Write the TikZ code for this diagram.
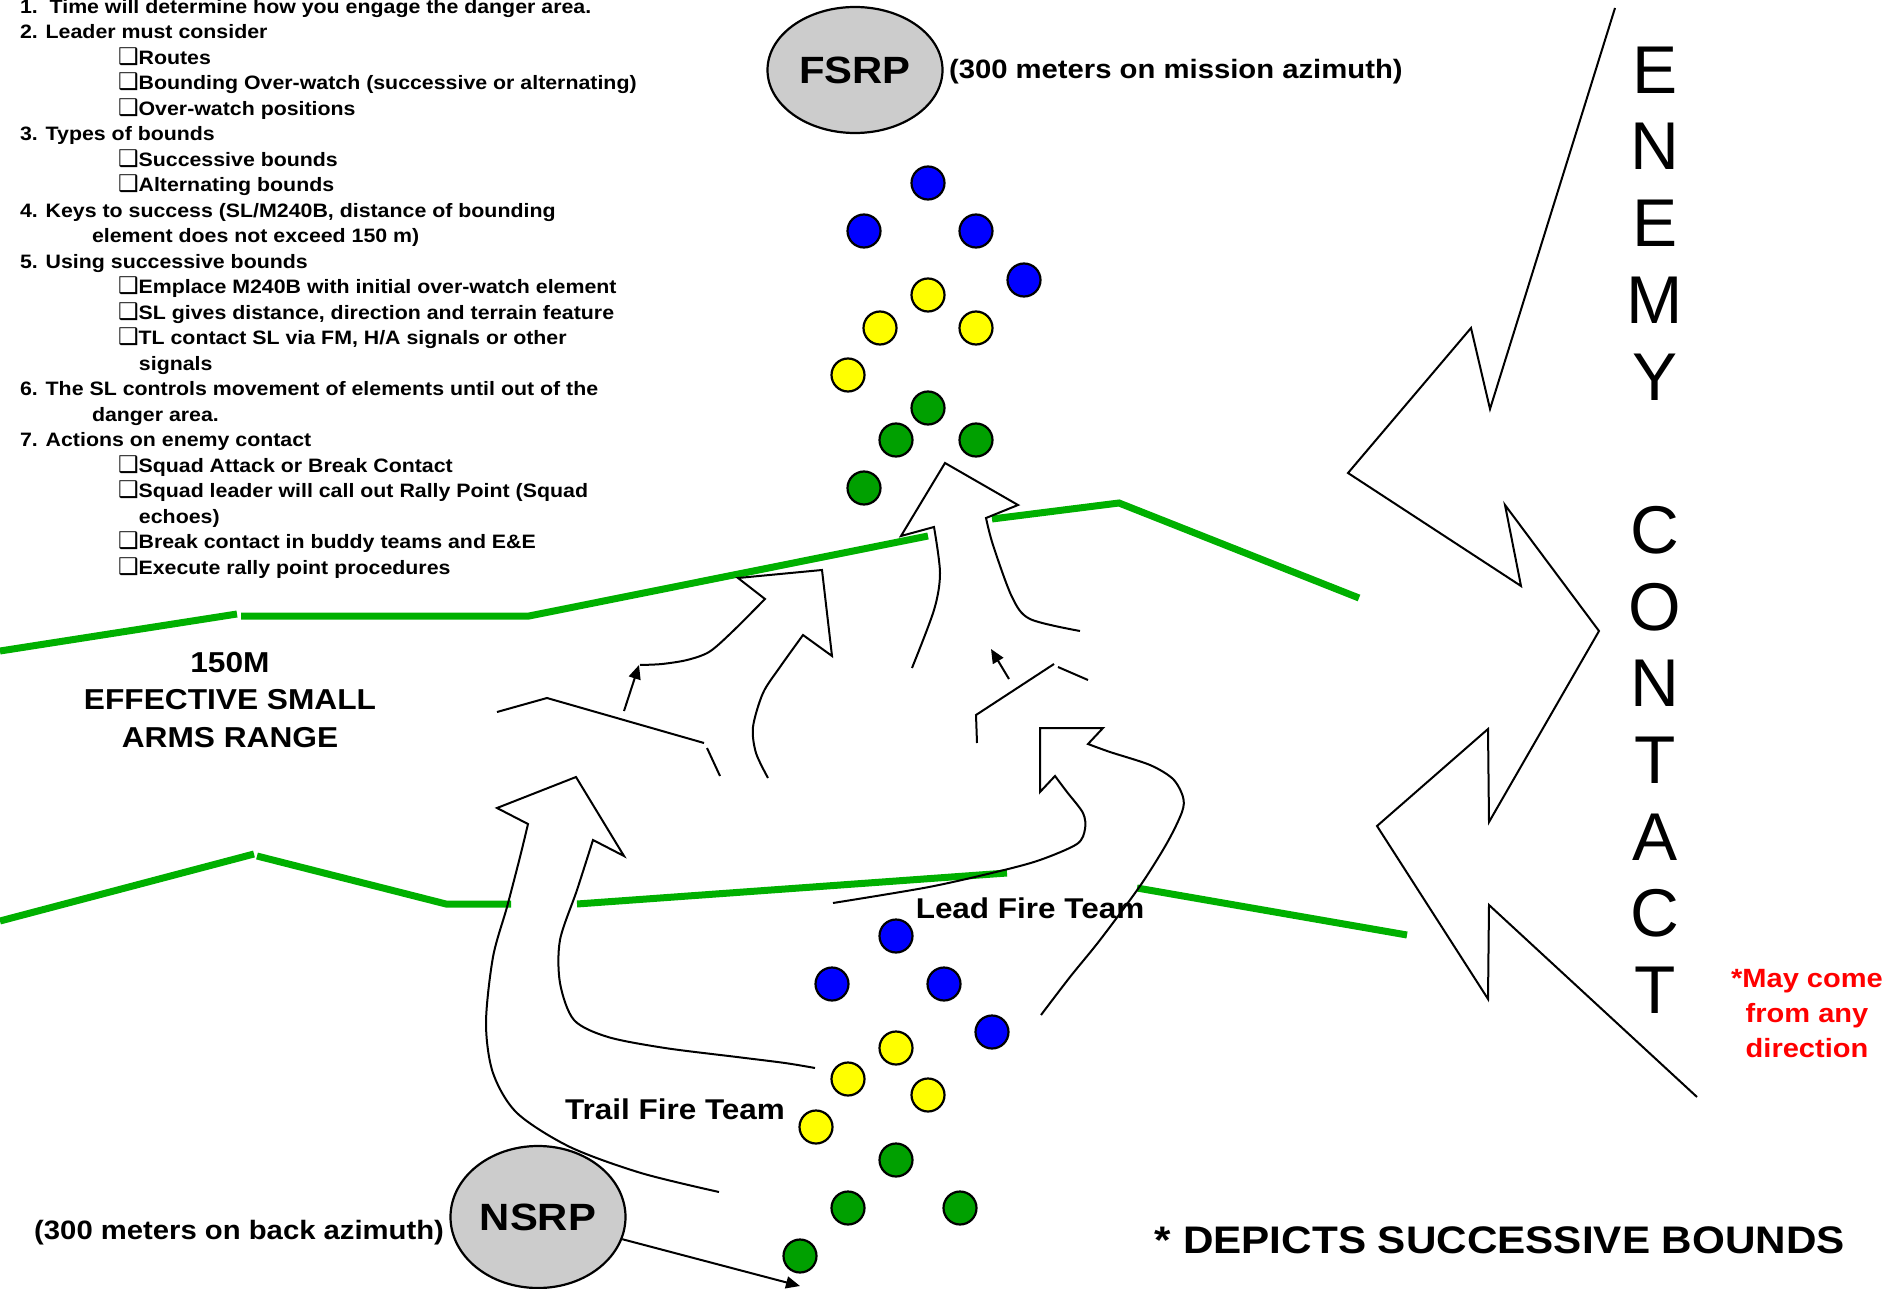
\documentclass[tikz,border=0pt]{standalone}
\usepackage{fontspec}
\setmainfont{Liberation Sans}[FakeStretch=1.1]
\newfontfamily\plainsans{Liberation Sans}
\newfontfamily\boxfont{DejaVu Sans}
\usetikzlibrary{shapes.geometric, arrows.meta}
\definecolor{ridgegreen}{RGB}{0,176,0}
\definecolor{teamgreen}{RGB}{0,160,0}
\definecolor{teamblue}{RGB}{0,0,255}
\definecolor{teamyellow}{RGB}{255,255,0}
\definecolor{rallygray}{RGB}{204,204,204}
\newcommand{\chkbox}{{\boxfont\fontsize{11.5}{12.75}\selectfont ❑}}

\begin{document}
\begin{tikzpicture}
[x=0.5pt, y=-0.5pt, line width=1pt,
bdot/.style={circle, draw, line width=1.1pt, fill=teamblue, inner sep=0pt, minimum size=16.5pt},
ydot/.style={circle, draw, line width=1.1pt, fill=teamyellow, inner sep=0pt, minimum size=16.5pt},
gdot/.style={circle, draw, line width=1.1pt, fill=teamgreen, inner sep=0pt, minimum size=16.5pt},
rally/.style={ellipse, draw, line width=1.1pt, fill=rallygray, inner sep=0pt, minimum width=87.5pt, minimum height=63pt, font=\fontsize{19}{22}\selectfont\bfseries},
ridge/.style={draw=ridgegreen, line width=3.5pt},
bound/.style={draw, line width=1pt},
teamlabel/.style={inner sep=0pt, font=\fontsize{14.3}{18}\selectfont\bfseries},
azimuth/.style={inner sep=0pt, font=\fontsize{13.3}{16}\selectfont\bfseries},
tiny arrow/.style={-{Triangle[length=7pt, width=6pt]}, line width=1pt}]

\path[use as bounding box, fill=white] (0,0) rectangle (1901,1289);

% base of a multi-line node is its last line
\node[anchor=base west, inner sep=0pt, align=left, font=\fontsize{9.7}{12.75}\selectfont\bfseries] (notes) at (19,574)
{1.\ \ Time will determine how you engage the danger area.\\
2. Leader must consider\\
\hspace*{49pt}\chkbox Routes\\
\hspace*{49pt}\chkbox Bounding Over-watch (successive or alternating)\\
\hspace*{49pt}\chkbox Over-watch positions\\
3. Types of bounds\\
\hspace*{49pt}\chkbox Successive bounds\\
\hspace*{49pt}\chkbox Alternating bounds\\
4. Keys to success (SL/M240B, distance of bounding\\
\hspace*{36pt}element does not exceed 150 m)\\
5. Using successive bounds\\
\hspace*{49pt}\chkbox Emplace M240B with initial over-watch element\\
\hspace*{49pt}\chkbox SL gives distance, direction and terrain feature\\
\hspace*{49pt}\chkbox TL contact SL via FM, H/A signals or other\\
\hspace*{59.5pt}signals\\
6. The SL controls movement of elements until out of the\\
\hspace*{36pt}danger area.\\
7. Actions on enemy contact\\
\hspace*{49pt}\chkbox Squad Attack or Break Contact\\
\hspace*{49pt}\chkbox Squad leader will call out Rally Point (Squad\\
\hspace*{59.5pt}echoes)\\
\hspace*{49pt}\chkbox Break contact in buddy teams and E\&E\\
\hspace*{49pt}\chkbox Execute rally point procedures};

% terrain lines
\draw[ridge] (0,651) -- (237,614);
\draw[ridge] (241,616) -- (529,616) -- (928,536);
\draw[ridge] (992,519) -- (1119,503) -- (1359,598);
\draw[ridge] (0,921) -- (254,854);
\draw[ridge] (257,856) -- (446,904) -- (511,904);
\draw[ridge] (577,904) -- (1007,873);
\draw[ridge] (1137,888) -- (1407,935);

% bounds
\draw[bound] plot[smooth] coordinates {(912,668) (934,610) (940,573) (934,527)} -- (901,536) -- (945,463) -- (1018,505) -- (986,518) -- plot[smooth] coordinates {(986,518) (993,545) (1012,597) (1030,619) (1080,631)};
\draw[bound] plot[smooth] coordinates {(640,665) (662,664) (687,660) (709,652) (731,633) (765,599)} -- (738,578) -- (822,570) -- (832,656) -- (803,635) -- plot[smooth] coordinates {(803,635) (780,667) (763,693) (753,727) (756,753) (768,778)};
\draw[bound] plot[smooth] coordinates {(719,1192) (641,1173) (570,1147) (517,1113) (493,1073) (486,1023) (493,957) (507,907) (520,857) (528,824)} -- (497,808) -- (576,777) -- (624,856) -- (593,840) -- plot[smooth] coordinates {(593,840) (577,890) (560,940) (560,983) (574,1020) (608,1037) (665,1048) (737,1057) (785,1063) (815,1068)};
\draw[bound] plot[smooth] coordinates {(1041,1015) (1070,977) (1100,940) (1140,886) (1167,843) (1182,812) (1183,797) (1173,779) (1150,765) (1110,752) (1088,744)} -- (1103,728) -- (1040,728) -- (1040,792) -- (1055,776) -- plot[smooth] coordinates {(1055,776) (1067,792) (1083,813) (1085,829) (1077,844) (1040,860) (1000,871) (929,887) (833,903)};

\draw[bound] (497,712) -- (547,698) -- (704,743);
\draw[bound] (707,748) -- (720,776);
\draw[bound] (977,743) -- (976,715) -- (1054,664);
\draw[bound] (1058,667) -- (1088,680);

\coordinate (lt0) at (624,711);
\coordinate (lt1) at (639,665);
\draw[tiny arrow] (lt0) -- (lt1);
\coordinate (rt0) at (1009,679);
\coordinate (rt1) at (991,649);
\draw[tiny arrow] (rt0) -- (rt1);

% enemy contact
\draw[bound] (1615,8) -- (1490,409) -- (1471,328) -- (1348,473) -- (1521,586) -- (1505,505) -- (1599,631) -- (1489,822) -- (1488,729) -- (1377,826) -- (1488,999) -- (1489,905) -- (1697,1097);
\foreach \ch [count=\i from 0] in {E,N,E,M,Y,{},C,O,N,T,A,C,T}
  \node[font=\plainsans\fontsize{33.8}{40}\selectfont] (enemy\i) at (1655,70+76.7*\i) {\ch};
\node[align=center, text=red, font=\fontsize{13.2}{17.5}\selectfont\bfseries] (anydir) at (1807,1014) {*May come\\from any\\direction};

% rally points
\node[rally] (fsrp) at (855,70) {FSRP};
\node[azimuth, anchor=west] (fsrpnote) at (948,72) {(300 meters on mission azimuth)};
\node[rally, minimum height=71pt] (nsrp) at (538,1217) {NSRP};
\node[azimuth, anchor=east] (nsrpnote) at (445,1233) {(300 meters on back azimuth)};
\coordinate (nsrpend) at (800,1286);
\draw[tiny arrow] (nsrp) -- (nsrpend);

% squad after the bound
\node[bdot] (tb0) at (928,183) {};
\node[bdot] (tb1) at (864,231) {};
\node[bdot] (tb2) at (976,231) {};
\node[bdot] (tb3) at (1024,280) {};
\node[ydot] (ty0) at (928,295) {};
\node[ydot] (ty1) at (880,328) {};
\node[ydot] (ty2) at (976,328) {};
\node[ydot] (ty3) at (848,375) {};
\node[gdot] (tg0) at (928,408) {};
\node[gdot] (tg1) at (896,440) {};
\node[gdot] (tg2) at (976,440) {};
\node[gdot] (tg3) at (864,488) {};

% squad before the bound
\node[bdot] (bb0) at (896,936) {};
\node[bdot] (bb1) at (832,984) {};
\node[bdot] (bb2) at (944,984) {};
\node[bdot] (bb3) at (992,1032) {};
\node[ydot] (by0) at (896,1048) {};
\node[ydot] (by1) at (848,1079) {};
\node[ydot] (by2) at (928,1095) {};
\node[ydot] (by3) at (816,1127) {};
\node[gdot] (bg0) at (896,1160) {};
\node[gdot] (bg1) at (848,1208) {};
\node[gdot] (bg2) at (960,1208) {};
\node[gdot] (bg3) at (800,1256) {};

\node[align=center, font=\fontsize{14.4}{18.8}\selectfont\bfseries] (range) at (230,700) {150M\\EFFECTIVE SMALL\\ARMS RANGE};
\node[teamlabel] (lead) at (1030,908) {Lead Fire Team};
\node[teamlabel] (trail) at (675,1109) {Trail Fire Team};
\node[font=\fontsize{19.2}{23}\selectfont\bfseries] (depicts) at (1500,1240) {* DEPICTS SUCCESSIVE BOUNDS};
\end{tikzpicture}
\end{document}
